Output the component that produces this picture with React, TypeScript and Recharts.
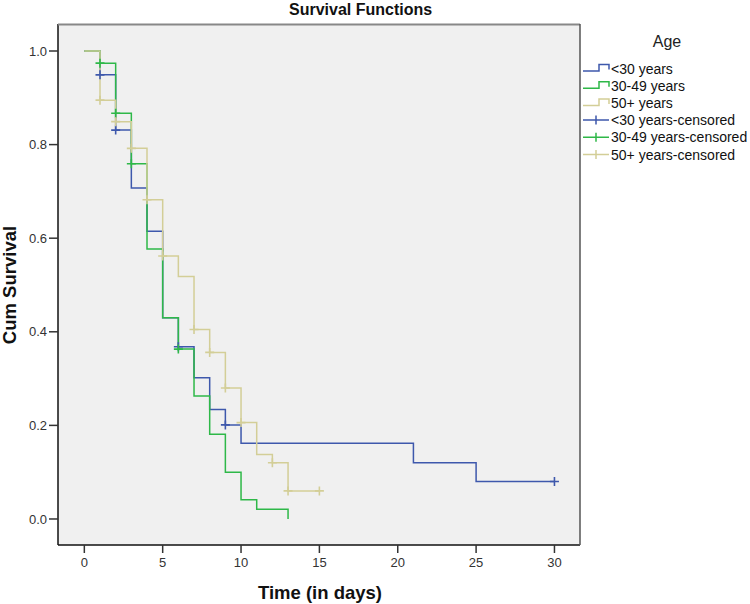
import React from "react";
import {
  ComposedChart, Line, Scatter, XAxis, YAxis, CartesianGrid,
} from "recharts";

// Kaplan-Meier step points (time in days, cumulative survival)
const youngTimes = [0, 1, 2, 3, 4, 5, 6, 7, 8, 9, 10, 21, 25, 30];
const youngSurv = [1, 0.949, 0.831, 0.707, 0.615, 0.43, 0.368, 0.302, 0.234, 0.201, 0.162, 0.12, 0.08, 0.08];
const midTimes = [0, 1, 2, 3, 4, 5, 6, 7, 8, 9, 10, 11, 13];
const midSurv = [1, 0.974, 0.867, 0.759, 0.577, 0.43, 0.363, 0.263, 0.181, 0.1, 0.041, 0.021, 0];
const oldTimes = [0, 1, 2, 3, 4, 5, 6, 7, 8, 9, 10, 11, 12, 13, 15];
const oldSurv = [1, 0.895, 0.849, 0.792, 0.682, 0.562, 0.518, 0.405, 0.356, 0.28, 0.206, 0.138, 0.12, 0.06, 0.06];

// censored observations
const youngCensTimes = [1, 2, 6, 9, 30];
const youngCensSurv = [0.949, 0.831, 0.368, 0.201, 0.08];
const midCensTimes = [1, 2, 3, 6];
const midCensSurv = [0.974, 0.867, 0.759, 0.363];
const oldCensTimes = [1, 2, 3, 4, 5, 7, 8, 9, 10, 12, 13, 15];
const oldCensSurv = [0.895, 0.849, 0.792, 0.682, 0.562, 0.405, 0.356, 0.28, 0.206, 0.12, 0.06, 0.06];

const xTicks = [0, 5, 10, 15, 20, 25, 30];
const yTicks = [0, 0.2, 0.4, 0.6, 0.8, 1.0];

const groups = ["<30 years", "30-49 years", "50+ years"];
const COLORS = ["#3e58ac", "#2eb848", "#d3ce97"];

const toPoints = (ts: number[], ss: number[]) => ts.map((t, i) => ({ t, s: ss[i] }));

const curves = [
  toPoints(youngTimes, youngSurv),
  toPoints(midTimes, midSurv),
  toPoints(oldTimes, oldSurv),
];
const censored = [
  toPoints(youngCensTimes, youngCensSurv),
  toPoints(midCensTimes, midCensSurv),
  toPoints(oldCensTimes, oldCensSurv),
];

const FONT = "Arial, 'Liberation Sans', sans-serif";

const cross = (color: string) => (props: any) => {
  const { cx, cy } = props;
  return (
    <path d={`M${cx - 4.5},${cy}h9M${cx},${cy - 4.5}v9`} stroke={color} strokeWidth={1.6} fill="none" />
  );
};

const LegendBox: React.FC = () => {
  const rows = [
    ...groups.map((g, i) => ({ label: g, color: COLORS[i], censor: false })),
    ...groups.map((g, i) => ({ label: `${g}-censored`, color: COLORS[i], censor: true })),
  ];
  return (
    <g fontFamily={FONT}>
      <text x={667} y={47} fontSize={16} textAnchor="middle" fill="#222">Age</text>
      {rows.map((r, i) => {
        const y = 68.5 + i * 17.2;
        return (
          <g key={i}>
            {r.censor ? (
              <path d={`M583,${y}H609M596,${y - 4.5}V${y + 4.5}`} stroke={r.color} strokeWidth={1.5} fill="none" />
            ) : (
              <path d={`M583,${y + 2.5}H599V${y - 4}H609V${y + 1}`} stroke={r.color} strokeWidth={1.5} fill="none" />
            )}
            <text x={611} y={y + 5} fontSize={14} fill="#111">{r.label}</text>
          </g>
        );
      })}
    </g>
  );
};

export default function App() {
  return (
    <div style={{ position: "absolute", left: 0, top: 0, width: 750, height: 604, background: "#fff" }}>
      <ComposedChart
        width={750}
        height={604}
        margin={{ top: 24, right: 170, bottom: 29, left: 0 }}
      >
        <CartesianGrid horizontal={false} vertical={false} fill="#f0f0f0" />
        <XAxis
          type="number"
          dataKey="t"
          domain={[-1.68, 31.63]}
          allowDataOverflow
          ticks={xTicks}
          height={30}
          tickSize={8}
          tickMargin={5}
          tick={{ fontSize: 13, fill: "#333", fontFamily: FONT }}
          axisLine={{ stroke: "#111", strokeWidth: 1.5 }}
          tickLine={{ stroke: "#333", strokeWidth: 1.5 }}
        />
        <YAxis
          type="number"
          dataKey="s"
          domain={[-0.0556, 1.0577]}
          allowDataOverflow
          ticks={yTicks}
          width={58}
          tickSize={9}
          tickMargin={2}
          tickFormatter={(v: number) => v.toFixed(1)}
          tick={{ fontSize: 13, fill: "#333", fontFamily: FONT }}
          axisLine={{ stroke: "#111", strokeWidth: 1.5 }}
          tickLine={{ stroke: "#333", strokeWidth: 1.5 }}
        />
        {curves.map((d, i) => (
          <Line
            key={groups[i]}
            data={d}
            dataKey="s"
            type="stepAfter"
            stroke={COLORS[i]}
            strokeWidth={1.5}
            dot={false}
            activeDot={false}
            isAnimationActive={false}
          />
        ))}
        {censored.map((d, i) => (
          <Scatter
            key={`${groups[i]}-c`}
            data={d}
            dataKey="s"
            shape={cross(COLORS[i])}
            isAnimationActive={false}
          />
        ))}
      </ComposedChart>
      <svg
        width={750}
        height={604}
        style={{ position: "absolute", left: 0, top: 0, pointerEvents: "none" }}
      >
        <line x1={58} y1={24.5} x2={580} y2={24.5} stroke="#888" strokeWidth={2} />
        <line x1={580} y1={24} x2={580} y2={545} stroke="#555" strokeWidth={1.5} />
        <text x={289} y={15} fontFamily={FONT} fontSize={16} fontWeight="bold" fill="#111">
          Survival Functions
        </text>
        <text
          x={320}
          y={598.5}
          fontFamily={FONT}
          fontSize={18.5}
          fontWeight="bold"
          textAnchor="middle"
          fill="#111"
        >
          Time (in days)
        </text>
        <text
          transform="translate(15.5,285) rotate(-90)"
          fontFamily={FONT}
          fontSize={18.5}
          fontWeight="bold"
          textAnchor="middle"
          fill="#111"
        >
          Cum Survival
        </text>
        <LegendBox />
      </svg>
    </div>
  );
}
